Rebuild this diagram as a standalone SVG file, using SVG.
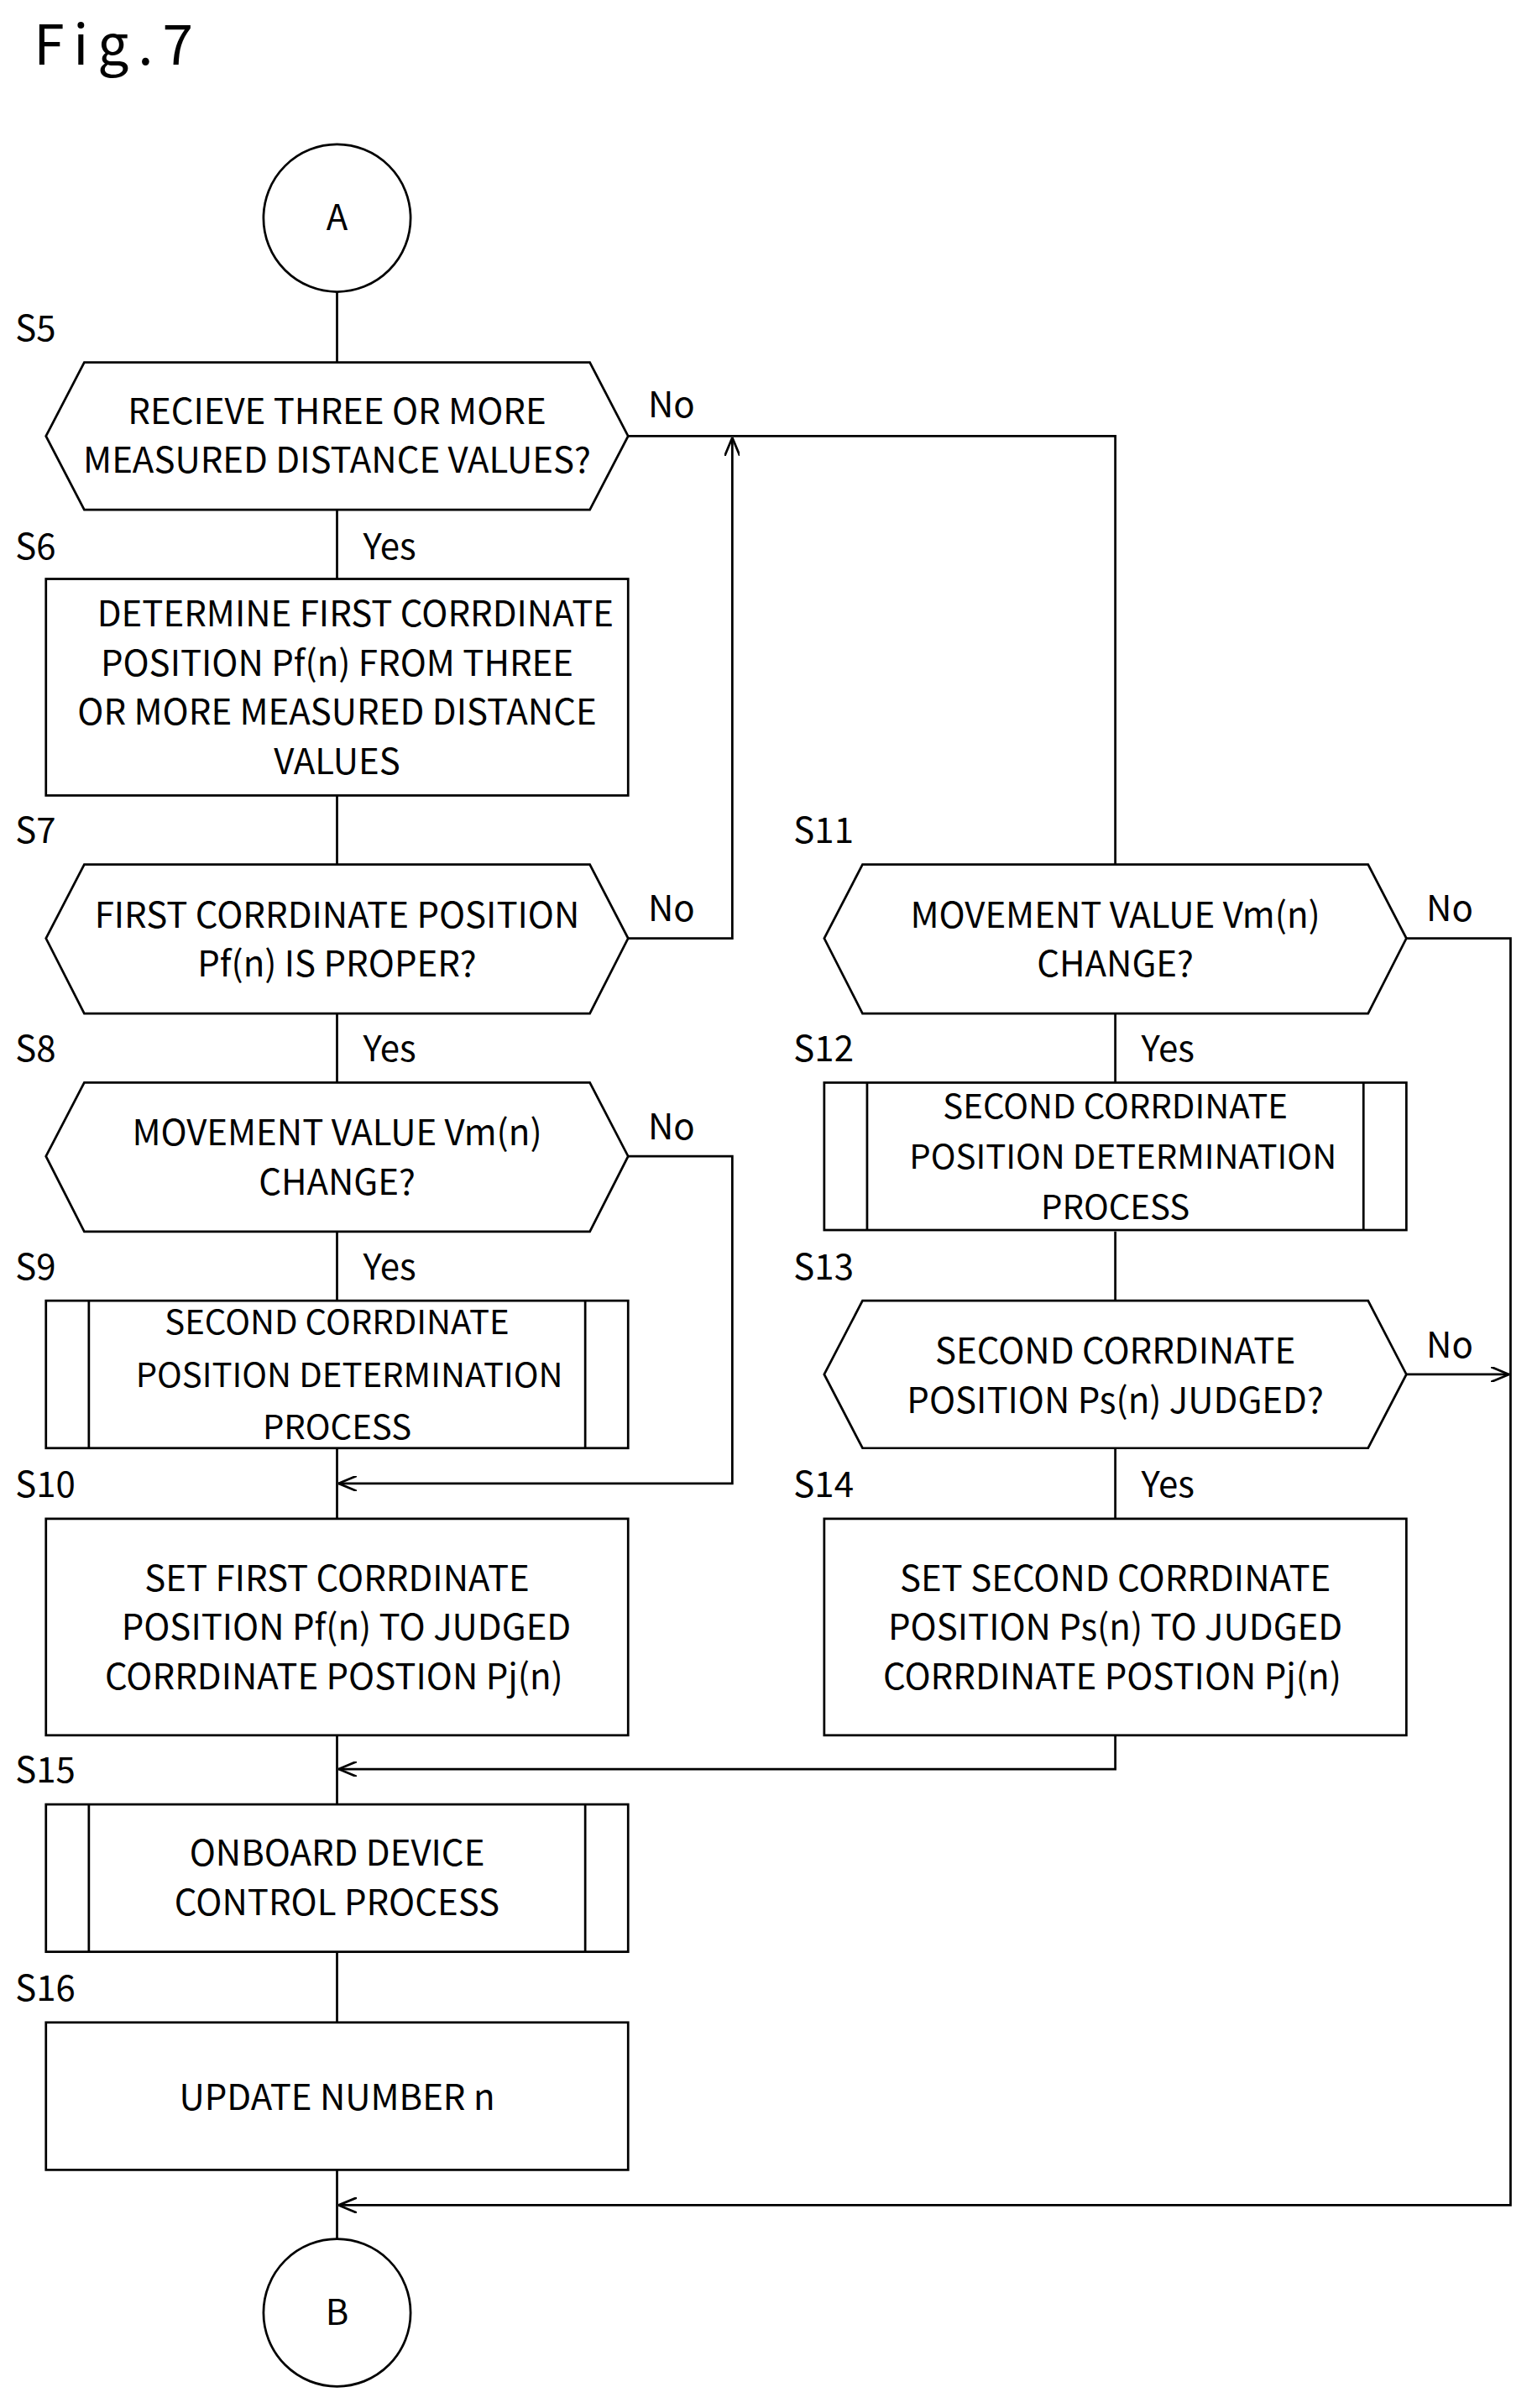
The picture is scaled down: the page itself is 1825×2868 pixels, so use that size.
<svg xmlns="http://www.w3.org/2000/svg" width="1825" height="2868" viewBox="0 0 1825 2868">
<style>
.s{fill:none;stroke:#000;stroke-width:1.5}
.b{fill:#fff;stroke:#000;stroke-width:1.5}
text{font-family:"Noto Sans CJK JP","DejaVu Sans",sans-serif;font-size:23px;fill:#000}
.c{text-anchor:middle}
.p{font-size:22px}
</style>
<defs>
<marker id="a" viewBox="0 0 12 10" refX="12" refY="5" markerWidth="12" markerHeight="10" markerUnits="userSpaceOnUse" orient="auto"><path d="M0,0 L12,5 L0,10" fill="none" stroke="#000" stroke-width="1.5"/></marker>
</defs>
<rect width="1825" height="2868" fill="#fff"/>
<g transform="scale(1.825,1.829)">
<text x="22" y="42" style="font-size:36px;letter-spacing:6px">Fig.7</text>
<g id="connectors">
<path class="s" d="M220,190V236M220,332V377M220,518V563M220,660V705M220,802V847M220,943V989M220,1130V1175M220,1271V1317M220,1413V1458"/>
<path class="s" d="M410,284H728V563" marker-start="url(#a)"/>
<path class="s" d="M410,611H478V285" marker-end="url(#a)"/>
<path class="s" d="M410,753H478V966H221" marker-end="url(#a)"/>
<path class="s" d="M728,1130V1152H221" marker-end="url(#a)"/>
<path class="s" d="M918,611H986V1436H221" marker-end="url(#a)"/>
<path class="s" d="M918,895H985" marker-end="url(#a)"/>
<path class="s" d="M728,660V705M728,802V847M728,943V989"/>
</g>
<g id="A"><circle class="b" cx="220" cy="142" r="48"/><text class="c" x="220" y="150">A</text></g>
<g id="S5"><text x="10" y="222">S5</text><polygon class="b" points="30,284 55,236 385,236 410,284 385,332 55,332"/><text class="c" x="220" y="276">RECIEVE THREE OR MORE</text><text class="c" x="220" y="308">MEASURED DISTANCE VALUES?</text><text x="423" y="272">No</text></g>
<g id="S6"><text x="10" y="364">S6</text><text x="237" y="364">Yes</text><rect class="b" x="30" y="377" width="380" height="141"/><text class="c" x="232" y="408">DETERMINE FIRST CORRDINATE</text><text class="c" x="220" y="440">POSITION Pf(n) FROM THREE</text><text class="c" x="220" y="472">OR MORE MEASURED DISTANCE</text><text class="c" x="220" y="504">VALUES</text></g>
<g id="S7"><text x="10" y="549">S7</text><polygon class="b" points="30,611 55,563 385,563 410,611 385,660 55,660"/><text class="c" x="220" y="604">FIRST CORRDINATE POSITION</text><text class="c" x="220" y="636">Pf(n) IS PROPER?</text><text x="423" y="600">No</text></g>
<g id="S8"><text x="10" y="691">S8</text><text x="237" y="691">Yes</text><polygon class="b" points="30,753 55,705 385,705 410,753 385,802 55,802"/><text class="c" x="220" y="746">MOVEMENT VALUE Vm(n)</text><text class="c" x="220" y="778">CHANGE?</text><text x="423" y="742">No</text></g>
<g id="S9"><text x="10" y="833">S9</text><text x="237" y="833">Yes</text><rect class="b" x="30" y="847" width="380" height="96"/><path class="s" d="M58,847V943M382,847V943"/><text class="c p" x="220" y="869">SECOND CORRDINATE</text><text class="c p" x="228" y="903">POSITION DETERMINATION</text><text class="c p" x="220" y="937">PROCESS</text></g>
<g id="S10"><text x="10" y="975">S10</text><rect class="b" x="30" y="989" width="380" height="141"/><text class="c" x="220" y="1036">SET FIRST CORRDINATE</text><text class="c" x="226" y="1068">POSITION Pf(n) TO JUDGED</text><text class="c" x="218" y="1100">CORRDINATE POSTION Pj(n)</text></g>
<g id="S15"><text x="10" y="1161">S15</text><rect class="b" x="30" y="1175" width="380" height="96"/><path class="s" d="M58,1175V1271M382,1175V1271"/><text class="c" x="220" y="1215">ONBOARD DEVICE</text><text class="c" x="220" y="1247">CONTROL PROCESS</text></g>
<g id="S16"><text x="10" y="1303">S16</text><rect class="b" x="30" y="1317" width="380" height="96"/><text class="c" x="220" y="1374">UPDATE NUMBER n</text></g>
<g id="B"><circle class="b" cx="220" cy="1506" r="48"/><text class="c" x="220" y="1514">B</text></g>
<g id="S11"><text x="518" y="549">S11</text><polygon class="b" points="538,611 563,563 893,563 918,611 893,660 563,660"/><text class="c" x="728" y="604">MOVEMENT VALUE Vm(n)</text><text class="c" x="728" y="636">CHANGE?</text><text x="931" y="600">No</text></g>
<g id="S12"><text x="518" y="691">S12</text><text x="745" y="691">Yes</text><rect class="b" x="538" y="705" width="380" height="96"/><path class="s" d="M566,705V801M890,705V801"/><text class="c p" x="728" y="728">SECOND CORRDINATE</text><text class="c p" x="733" y="761">POSITION DETERMINATION</text><text class="c p" x="728" y="794">PROCESS</text></g>
<g id="S13"><text x="518" y="833">S13</text><polygon class="b" points="538,895 563,847 893,847 918,895 893,943 563,943"/><text class="c" x="728" y="888">SECOND CORRDINATE</text><text class="c" x="728" y="920">POSITION Ps(n) JUDGED?</text><text x="931" y="884">No</text></g>
<g id="S14"><text x="518" y="975">S14</text><text x="745" y="975">Yes</text><rect class="b" x="538" y="989" width="380" height="141"/><text class="c" x="728" y="1036">SET SECOND CORRDINATE</text><text class="c" x="728" y="1068">POSITION Ps(n) TO JUDGED</text><text class="c" x="726" y="1100">CORRDINATE POSTION Pj(n)</text></g>
</g>
</svg>
